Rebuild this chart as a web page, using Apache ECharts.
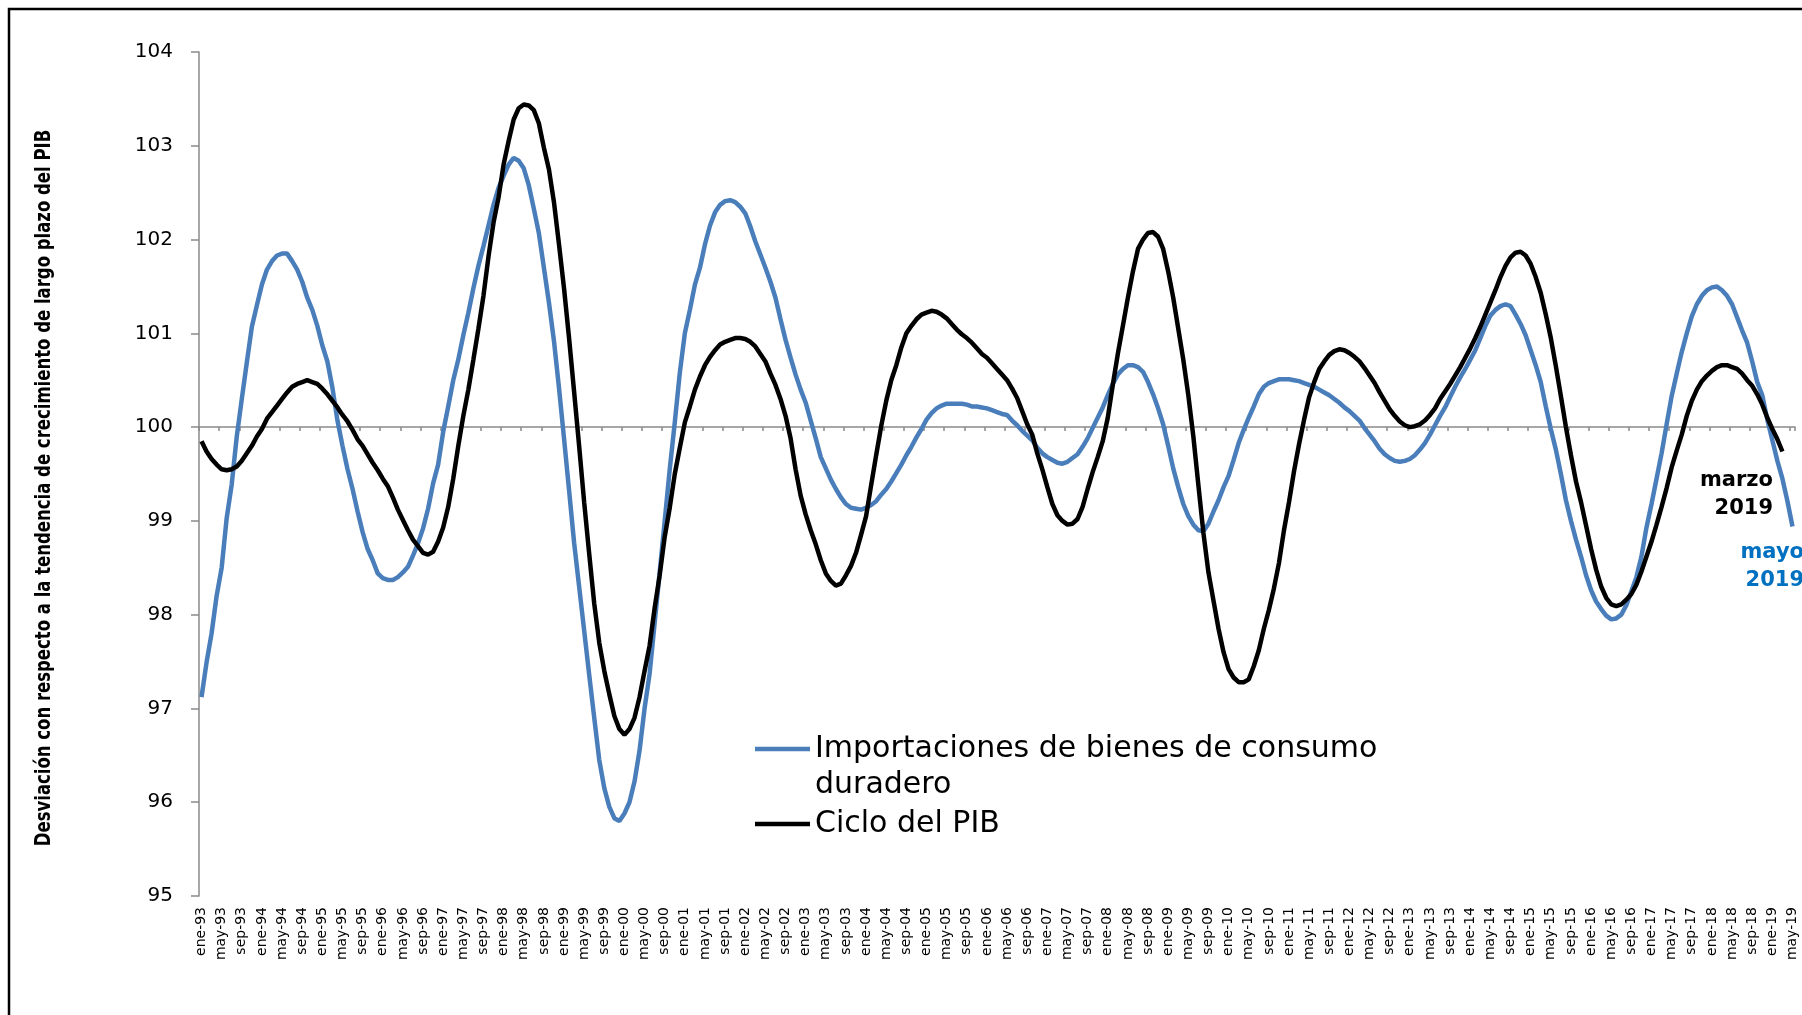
<!DOCTYPE html>
<html>
<head>
<meta charset="utf-8">
<title>Importaciones de bienes de consumo duradero y ciclo del PIB</title>
<script src="https://cdn.jsdelivr.net/npm/echarts@6/dist/echarts.min.js"></script>
<style>
  html, body { margin: 0; padding: 0; background: #fff; }
  #chart { width: 1802px; height: 1015px; }
</style>
</head>
<body>
<div id="chart"></div>
<script>
// meses del eje x (ene-93 ... may-19)
const meses = ['ene', 'feb', 'mar', 'abr', 'may', 'jun', 'jul', 'ago', 'sep', 'oct', 'nov', 'dic'];
const primerAnio = 1993;
const ultimoAnio = 2019;
const ultimoMes = 5;

const nombreImport = 'Importaciones de bienes de consumo duradero';
const nombrePib = 'Ciclo del PIB';
const tituloY = 'Desviación con respecto a la tendencia de crecimiento de largo plazo del PIB';

const yMin = 95, yMax = 104, yPaso = 1, lineaRef = 100;

// una fila por año
const importaciones = [
  97.12, 97.49, 97.80, 98.20, 98.50, 99.03, 99.39, 99.90, 100.30, 100.69, 101.07, 101.30,
  101.52, 101.68, 101.77, 101.83, 101.85, 101.85, 101.77, 101.68, 101.55, 101.38, 101.25, 101.08,
  100.87, 100.70, 100.42, 100.07, 99.80, 99.55, 99.34, 99.10, 98.88, 98.70, 98.58, 98.44,
  98.39, 98.37, 98.37, 98.40, 98.45, 98.51, 98.63, 98.76, 98.92, 99.13, 99.40, 99.60,
  99.95, 100.22, 100.50, 100.72, 100.98, 101.22, 101.48, 101.72, 101.93, 102.15, 102.37, 102.55,
  102.68, 102.80, 102.87, 102.84, 102.76, 102.58, 102.33, 102.07, 101.70, 101.33, 100.92, 100.42,
  99.88, 99.33, 98.77, 98.30, 97.83, 97.36, 96.90, 96.45, 96.15, 95.95, 95.83, 95.80,
  95.88, 96.00, 96.22, 96.55, 97.00, 97.37, 97.91, 98.45, 99.00, 99.55, 100.05, 100.58,
  101.00, 101.25, 101.52, 101.70, 101.95, 102.15, 102.29, 102.37, 102.41, 102.42, 102.40, 102.35,
  102.28, 102.14, 101.98, 101.84, 101.70, 101.55, 101.38, 101.15, 100.93, 100.74, 100.56, 100.40,
  100.26, 100.07, 99.88, 99.68, 99.56, 99.44, 99.34, 99.25, 99.18, 99.14, 99.13, 99.12,
  99.14, 99.17, 99.21, 99.28, 99.34, 99.42, 99.51, 99.60, 99.70, 99.79, 99.89, 99.98,
  100.08, 100.15, 100.20, 100.23, 100.25, 100.25, 100.25, 100.25, 100.24, 100.22, 100.22, 100.21,
  100.20, 100.18, 100.16, 100.14, 100.13, 100.07, 100.02, 99.96, 99.91, 99.86, 99.78, 99.72,
  99.68, 99.65, 99.62, 99.61, 99.63, 99.67, 99.71, 99.79, 99.88, 99.99, 100.10, 100.21,
  100.34, 100.46, 100.56, 100.62, 100.66, 100.66, 100.64, 100.59, 100.48, 100.35, 100.20, 100.03,
  99.80, 99.56, 99.36, 99.18, 99.05, 98.96, 98.90, 98.89, 98.97, 99.10, 99.22, 99.36,
  99.48, 99.65, 99.83, 99.97, 100.10, 100.22, 100.35, 100.43, 100.47, 100.49, 100.51, 100.51,
  100.51, 100.50, 100.49, 100.47, 100.45, 100.43, 100.40, 100.37, 100.34, 100.30, 100.26, 100.21,
  100.17, 100.12, 100.07, 99.99, 99.92, 99.85, 99.77, 99.71, 99.67, 99.64, 99.63, 99.64,
  99.66, 99.70, 99.76, 99.83, 99.92, 100.02, 100.12, 100.21, 100.32, 100.43, 100.53, 100.62,
  100.72, 100.82, 100.95, 101.08, 101.19, 101.25, 101.29, 101.31, 101.29, 101.20, 101.10, 100.98,
  100.82, 100.66, 100.48, 100.22, 99.98, 99.76, 99.50, 99.22, 99.00, 98.80, 98.62, 98.42,
  98.26, 98.14, 98.06, 97.99, 97.95, 97.96, 98.00, 98.10, 98.25, 98.40, 98.62, 98.93,
  99.18, 99.45, 99.72, 100.03, 100.33, 100.57, 100.80, 101.00, 101.18, 101.31, 101.40, 101.46,
  101.49, 101.50, 101.46, 101.40, 101.31, 101.17, 101.03, 100.90, 100.70, 100.48, 100.34, 100.08,
  99.86, 99.64, 99.45, 99.21, 98.94
];

const cicloPib = [
  99.85, 99.74, 99.66, 99.60, 99.55, 99.54, 99.55, 99.58, 99.64, 99.72, 99.80, 99.90,
  99.98, 100.09, 100.16, 100.23, 100.30, 100.37, 100.43, 100.46, 100.48, 100.50, 100.48, 100.46,
  100.41, 100.35, 100.28, 100.21, 100.13, 100.06, 99.97, 99.87, 99.80, 99.71, 99.62, 99.54,
  99.45, 99.37, 99.25, 99.12, 99.01, 98.90, 98.80, 98.73, 98.66, 98.64, 98.67, 98.78,
  98.93, 99.15, 99.45, 99.80, 100.12, 100.40, 100.72, 101.05, 101.40, 101.82, 102.18, 102.45,
  102.80, 103.05, 103.28, 103.40, 103.44, 103.43, 103.38, 103.24, 102.98, 102.75, 102.40, 101.95,
  101.48, 100.95, 100.38, 99.80, 99.20, 98.65, 98.12, 97.70, 97.40, 97.15, 96.92, 96.78,
  96.72, 96.78, 96.90, 97.12, 97.40, 97.67, 98.07, 98.42, 98.83, 99.14, 99.50, 99.78,
  100.05, 100.22, 100.40, 100.54, 100.66, 100.75, 100.82, 100.88, 100.91, 100.93, 100.95, 100.95,
  100.94, 100.91, 100.86, 100.78, 100.70, 100.57, 100.45, 100.30, 100.12, 99.88, 99.55, 99.27,
  99.07, 98.90, 98.75, 98.58, 98.44, 98.36, 98.31, 98.33, 98.42, 98.52, 98.66, 98.85,
  99.05, 99.38, 99.70, 100.01, 100.28, 100.50, 100.66, 100.85, 101.00, 101.08, 101.15, 101.20,
  101.22, 101.24, 101.23, 101.20, 101.16, 101.10, 101.04, 100.99, 100.95, 100.90, 100.84, 100.78,
  100.74, 100.68, 100.62, 100.56, 100.50, 100.41, 100.31, 100.17, 100.03, 99.92, 99.72, 99.55,
  99.36, 99.18, 99.06, 99.00, 98.96, 98.97, 99.02, 99.15, 99.34, 99.52, 99.68, 99.85,
  100.10, 100.45, 100.78, 101.08, 101.38, 101.66, 101.90, 102.00, 102.07, 102.08, 102.03, 101.90,
  101.66, 101.38, 101.05, 100.72, 100.34, 99.90, 99.38, 98.87, 98.45, 98.15, 97.85, 97.60,
  97.42, 97.33, 97.28, 97.28, 97.31, 97.45, 97.62, 97.85, 98.05, 98.28, 98.55, 98.90,
  99.20, 99.53, 99.82, 100.08, 100.32, 100.48, 100.62, 100.70, 100.77, 100.81, 100.83, 100.82,
  100.79, 100.75, 100.70, 100.63, 100.55, 100.47, 100.37, 100.28, 100.19, 100.12, 100.06, 100.02,
  100.00, 100.01, 100.03, 100.07, 100.13, 100.20, 100.30, 100.38, 100.46, 100.55, 100.64, 100.74,
  100.84, 100.95, 101.07, 101.20, 101.33, 101.46, 101.60, 101.72, 101.81, 101.86, 101.87, 101.83,
  101.74, 101.60, 101.43, 101.20, 100.95, 100.65, 100.33, 100.00, 99.70, 99.42, 99.20, 98.95,
  98.70, 98.48, 98.30, 98.18, 98.11, 98.09, 98.11, 98.16, 98.22, 98.32, 98.46, 98.62,
  98.78, 98.96, 99.15, 99.35, 99.57, 99.75, 99.92, 100.12, 100.28, 100.40, 100.49, 100.55,
  100.60, 100.64, 100.66, 100.66, 100.64, 100.62, 100.57, 100.50, 100.44, 100.35, 100.24, 100.10,
  99.98, 99.87, 99.74
];

const categorias = [];
for (let a = primerAnio; a <= ultimoAnio; a++) {
  const hasta = a === ultimoAnio ? ultimoMes : 12;
  for (let m = 0; m < hasta; m++) {
    categorias.push(meses[m] + '-' + String(a).slice(2));
  }
}

const fuente = '"DejaVu Sans", "Noto Sans", sans-serif';
const gris = '#8a8a8a';
const gridTop = 52, gridBottom = 119, gridLeft = 199, gridRight = 7;
const altoPlot = 1015 - gridTop - gridBottom;
// la linea de 100 es un segundo eje x desplazado hacia arriba
const offsetRef = -altoPlot * (lineaRef - yMin) / (yMax - yMin);

const chart = echarts.init(document.getElementById('chart'), null, { renderer: 'canvas' });

const option = {
  animation: false,
  backgroundColor: '#fff',
  grid: {
    left: gridLeft, right: gridRight, top: gridTop, bottom: gridBottom,
    containLabel: false, outerBoundsMode: 'none'
  },
  legend: [
    {
      data: [nombreImport],
      left: 755, top: 695,
      orient: 'vertical', padding: 0,
      icon: 'rect', itemWidth: 55, itemHeight: 4.5,
      selectedMode: false,
      // linea vacia arriba para que el icono quede a la altura de la primera linea
      formatter: () => '\nImportaciones de bienes de consumo\nduradero',
      textStyle: { fontFamily: fuente, fontSize: 30, color: '#000', lineHeight: 36 }
    },
    {
      data: [nombrePib],
      left: 755, top: 806,
      orient: 'vertical', padding: 0,
      icon: 'rect', itemWidth: 55, itemHeight: 4.5,
      selectedMode: false,
      textStyle: { fontFamily: fuente, fontSize: 30, color: '#000', lineHeight: 36 }
    }
  ],
  xAxis: [
    {
      type: 'category',
      data: categorias,
      boundaryGap: true,
      axisLine: { show: false },
      axisTick: { show: false },
      splitLine: { show: false },
      axisLabel: {
        interval: 3, rotate: 90, margin: 11,
        fontFamily: fuente, fontSize: 14, color: '#000'
      }
    },
    {
      type: 'category',
      data: categorias,
      boundaryGap: true,
      position: 'bottom',
      offset: offsetRef,
      axisLine: { show: true, onZero: false, lineStyle: { color: gris, width: 1.5 } },
      axisTick: { show: true, interval: 3, length: 4, lineStyle: { color: gris, width: 1.5 } },
      axisLabel: { show: false },
      splitLine: { show: false }
    }
  ],
  yAxis: {
    type: 'value',
    min: yMin, max: yMax, interval: yPaso,
    axisLine: { show: true, lineStyle: { color: gris, width: 1.5 } },
    axisTick: { show: true, length: 8, lineStyle: { color: gris, width: 1.5 } },
    splitLine: { show: false },
    axisLabel: { margin: 26, fontFamily: fuente, fontSize: 20, color: '#000' }
  },
  series: [
    {
      name: nombreImport,
      type: 'line',
      data: importaciones,
      symbol: 'none',
      lineStyle: { color: '#4A7EBB', width: 4.5 },
      itemStyle: { color: '#4A7EBB' }
    },
    {
      name: nombrePib,
      type: 'line',
      data: cicloPib,
      symbol: 'none',
      lineStyle: { color: '#000', width: 4.5 },
      itemStyle: { color: '#000' }
    }
  ],
  graphic: [
    {
      type: 'rect', silent: true, z: -1,
      shape: { x: 9, y: 9, width: 1850, height: 1100 },
      style: { fill: 'none', stroke: '#000', lineWidth: 2.5 }
    },
    {
      type: 'text', x: 44, y: 488, rotation: Math.PI / 2, scaleX: 0.75,
      style: {
        text: tituloY, fill: '#000', align: 'center', verticalAlign: 'middle',
        font: 'bold 22px ' + fuente
      }
    },
    {
      type: 'text', x: 1773, y: 495,
      style: {
        text: 'marzo\n2019', fill: '#000', align: 'right', verticalAlign: 'middle',
        font: 'bold 21px ' + fuente, lineHeight: 28
      }
    },
    {
      type: 'text', x: 1804, y: 567,
      style: {
        text: 'mayo\n2019', fill: '#0070C0', align: 'right', verticalAlign: 'middle',
        font: 'bold 21px ' + fuente, lineHeight: 28
      }
    }
  ]
};

chart.setOption(option);
</script>
</body>
</html>
